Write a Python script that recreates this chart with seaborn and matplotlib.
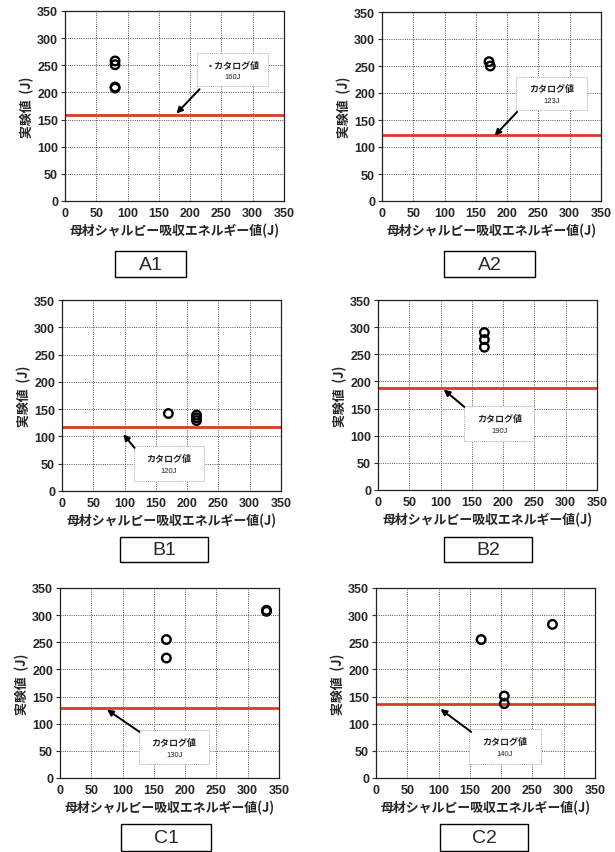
import matplotlib
matplotlib.use("Agg")
import matplotlib.pyplot as plt
import seaborn as sns
import numpy as np
import pandas as pd
from matplotlib.patches import Rectangle

sns.set_theme(style="white")
plt.rcParams['font.family'] = ['Noto Sans CJK JP', 'DejaVu Sans']

# ---- data ----
panels = ["A1", "A2", "B1", "B2", "C1", "C2"]
a1_x = [80, 80, 80, 80]
a1_y = [258, 251, 210, 208]
a2_x = [171, 173]
a2_y = [258, 250]
b1_x = [170, 215, 215, 215]
b1_y = [142, 139, 134, 129]
b2_x = [170, 170, 170]
b2_y = [290, 277, 263]
c1_x = [170, 170, 330, 330]
c1_y = [255, 221, 309, 307]
c2_x = [168, 205, 205, 282]
c2_y = [255, 151, 137, 283]
catalog_line = [158, 122, 117, 188, 129, 137]
catalog_title = ["・カタログ値", "カタログ値", "カタログ値", "カタログ値", "カタログ値", "カタログ値"]
catalog_value = ["160J", "123J", "120J", "190J", "130J", "140J"]
xs = [a1_x, a2_x, b1_x, b2_x, c1_x, c2_x]
ys = [a1_y, a2_y, b1_y, b2_y, c1_y, c2_y]
ticks = [0, 50, 100, 150, 200, 250, 300, 350]
xlabel = "母材シャルピー吸収エネルギー値(J)"
ylabel = "実験値  (J)"

# ---- layout (pixels) ----
W, H = 615, 853
axes_px = [(65, 12, 284, 202), (382, 13, 601, 202),
           (62, 301, 281, 492), (378, 301, 597, 491),
           (60, 589, 279, 779), (376, 589, 595, 779)]
box_px = [(115, 252, 186, 278), (444, 252, 535, 278),
          (120, 538, 208, 563), (444, 538, 532, 563),
          (121, 825, 211, 852), (440, 825, 528, 852)]
# annotation box extents in data units (x0, x1, y0, y1)
ann_box = [(211, 324, 211, 272), (214, 328, 168, 230), (115, 227, 18, 82),
           (138, 250, 90, 155), (127, 238, 25, 88), (148, 263, 25, 90)]
ann_tail = [(215, 206), (216, 165), (116, 79), (138, 153), (127, 85), (152, 85)]
ann_tip = [(178, 161), (180, 121), (98, 104), (105, 185), (75, 126), (103, 127)]

fig = plt.figure(figsize=(W / 100, H / 100), dpi=100)
fig.patch.set_facecolor("white")

for i, name in enumerate(panels):
    l, t, r, b = axes_px[i]
    ax = fig.add_axes([l / W, 1 - b / H, (r - l) / W, (b - t) / H])
    df = pd.DataFrame({"x": xs[i], "y": ys[i]})
    ax.axhline(catalog_line[i], color="#dc3a22", lw=2.0, zorder=2)
    sns.scatterplot(data=df, x="x", y="y", ax=ax, marker="o", s=38,
                    facecolor="none", edgecolor="black", linewidth=1.7, zorder=3)
    ax.set_xlim(0, 350)
    ax.set_ylim(0, 350)
    ax.set_xticks(ticks)
    ax.set_yticks(ticks)
    ax.set_xticklabels([str(v) for v in ticks], fontsize=9, fontweight="bold",
                       family=['Liberation Sans', 'DejaVu Sans'])
    ax.set_yticklabels([str(v) for v in ticks], fontsize=9, fontweight="bold",
                       family=['Liberation Sans', 'DejaVu Sans'])
    ax.grid(True, color="#555555", linestyle=(0, (1, 1.3)), linewidth=0.7)
    ax.set_axisbelow(True)
    for s in ax.spines.values():
        s.set_color("#222222")
        s.set_linewidth(0.9)
    ax.tick_params(axis="y", length=3, width=0.8, color="#333333", pad=2, left=True)
    ax.tick_params(axis="x", length=0, pad=4)
    ax.set_xlabel(xlabel, fontsize=9.3, fontweight="bold", labelpad=3)
    ax.set_ylabel(ylabel, fontsize=9.3, fontweight="bold", labelpad=2)

    x0, x1, y0, y1 = ann_box[i]
    ax.add_patch(Rectangle((x0, y0), x1 - x0, y1 - y0, facecolor="white",
                           edgecolor="#aaaaaa", linestyle=(0, (1, 1)),
                           linewidth=0.7, zorder=5))
    cx = (x0 + x1) / 2
    ax.text(cx, y0 + (y1 - y0) * 0.64, catalog_title[i], fontsize=6.5,
            fontweight="bold", ha="center", va="center", zorder=6)
    ax.text(cx, y0 + (y1 - y0) * 0.30, catalog_value[i], fontsize=5.5,
            ha="center", va="center", zorder=6,
            family=['Liberation Sans', 'DejaVu Sans'])
    ax.annotate("", xy=ann_tip[i], xytext=ann_tail[i], zorder=7,
                arrowprops=dict(arrowstyle="-|>", color="black", lw=1.4,
                                mutation_scale=9, shrinkA=0, shrinkB=0))

    bl, bt, br, bb = box_px[i]
    fig.patches.append(Rectangle((bl / W, 1 - bb / H), (br - bl) / W, (bb - bt) / H,
                                 transform=fig.transFigure, facecolor="white",
                                 edgecolor="black", linewidth=1.0))
    fig.text((bl + br) / 2 / W, 1 - (bt + bb) / 2 / H, name, fontsize=14,
             ha="center", va="center", family=['Liberation Sans', 'DejaVu Sans'])

fig.savefig("out.png", dpi=100, facecolor="white")
